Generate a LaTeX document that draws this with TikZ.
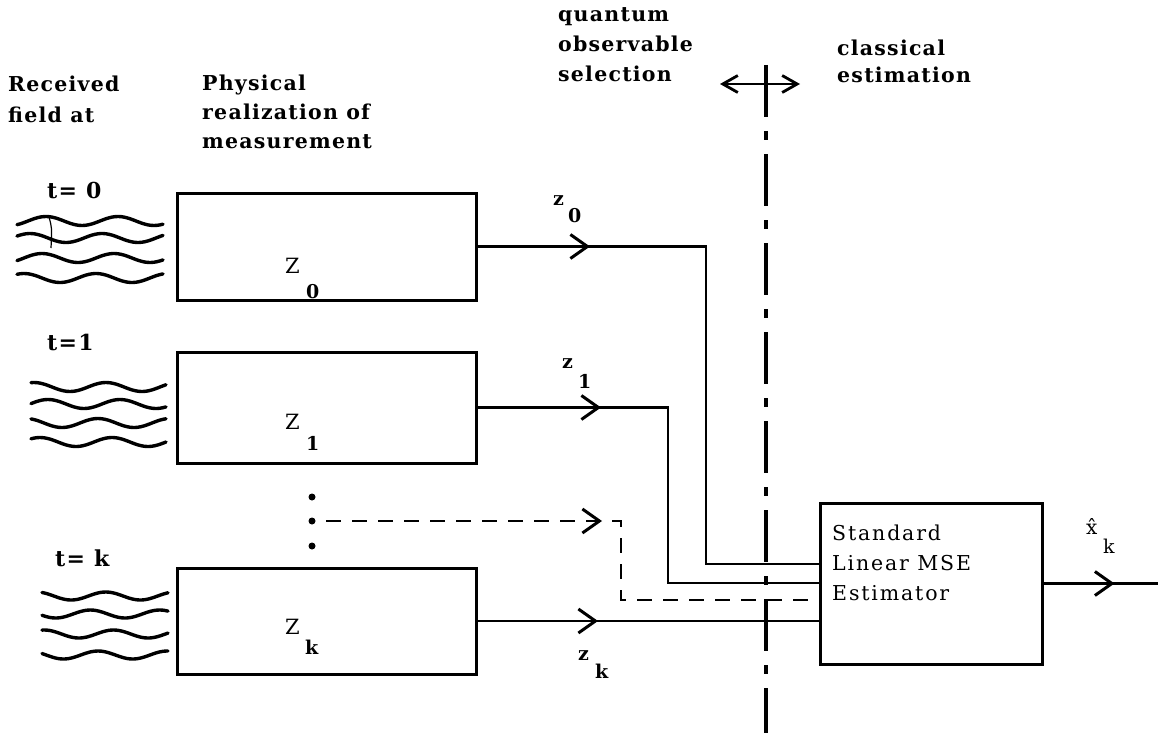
\documentclass[tikz,border=0pt]{standalone}
\usepackage{fontspec}
\setmainfont{DejaVu Serif}
\newfontfamily\hfont[LetterSpace=6]{DejaVu Serif}
\newfontfamily\efont[LetterSpace=9]{DejaVu Serif}
\usetikzlibrary{arrows.meta,decorations.markings}
\begin{document}
\begin{tikzpicture}[x=1pt,y=-1pt,
  hdr/.style={font=\hfont\bfseries\fontsize{20.5}{24}\selectfont, anchor=base west, inner sep=0pt},
  tl/.style={font=\hfont\bfseries\fontsize{22}{24}\selectfont, anchor=base west, inner sep=0pt},
  sym/.style={font=\fontsize{21}{24}\selectfont, anchor=base west, inner sep=0pt},
  symb/.style={font=\bfseries\fontsize{19}{24}\selectfont, anchor=base west, inner sep=0pt},
  est/.style={font=\efont\fontsize{20.5}{24}\selectfont, anchor=base west, inner sep=0pt},
  mbox/.style={draw, line width=3pt, minimum width=299pt, inner sep=0pt},
  conn/.style={line width=2.5pt},
  dconn/.style={line width=2.8pt, dash pattern=on 15pt off 11pt},
  divider/.style={line width=3.5pt, dash pattern=on 52pt off 14pt on 9pt off 14pt},
  wave/.style={line width=3.4pt, line cap=round},
  chev/.tip={Straight Barb[length=17pt,width=24pt,line width=3pt]},
  midarr/.style={postaction={decorate}, decoration={markings, mark=at position #1 with {\arrow{chev}}}},
  dotn/.style={circle, fill, inner sep=0pt, minimum size=7pt}
]
\useasboundingbox (0,0) rectangle (1169,733);
\fill[white] (0,0) rectangle (1169,733);

% header texts
\node[hdr] (h1a) at (8,92) {Received};
\node[hdr] (h1b) at (8,122) {field at};
\node[hdr] (h2a) at (202,91) {Physical};
\node[hdr] (h2b) at (202,120) {realization of};
\node[hdr] (h2c) at (202,148) {measurement};
\node[hdr] (h3a) at (558,22) {quantum};
\node[hdr] (h3b) at (558,52) {observable};
\node[hdr] (h3c) at (558,82) {selection};
\node[hdr] (h4a) at (837,56) {classical};
\node[hdr] (h4b) at (837,83) {estimation};

% time labels
\node[tl] (t0) at (47,198) {t= 0};
\node[tl] (t1) at (47,350) {t=1};
\node[tl] (tk) at (55,566) {t= k};

% waves
\foreach \y/\p in {221/40, 238/120, 258/60, 278/150}{
  \draw[wave] plot[domain=17:163, samples=50, smooth] (\x, {\y + 4.5*sin(5*\x + \p)});
}
\draw[line width=1.2pt] (49,217) .. controls (52,228) .. (51,248);
\foreach \y/\p in {387/100, 404/30, 423/140, 442/70}{
  \draw[wave] plot[domain=31:166, samples=50, smooth] (\x, {\y + 4.5*sin(5*\x + \p)});
}
\foreach \y/\p in {596/80, 614/160, 634/40, 655/120}{
  \draw[wave] plot[domain=42:168, samples=50, smooth] (\x, {\y + 4*sin(5.2*\x + \p)});
}

% measurement boxes
\node[mbox, minimum height=107pt] (Z0) at (327,246.5) {};
\node[mbox, minimum height=111pt] (Z1) at (327,407.5) {};
\node[mbox, minimum height=106pt] (Zk) at (327,621) {};
\node[sym] (Z0a) at (285,273) {Z};
\node[symb] (Z0b) at (306,298) {0};
\node[sym] (Z1a) at (285,429) {Z};
\node[symb] (Z1b) at (306,450) {1};
\node[sym] (Zka) at (285,634) {Z};
\node[symb] (Zkb) at (305,654) {k};

% vertical dots
\node[dotn] (d1) at (312,497) {};
\node[dotn] (d2) at (312,521) {};
\node[dotn] (d3) at (312,546) {};

% estimator
\node[draw, line width=3pt, minimum width=222pt, minimum height=161pt, inner sep=0pt] (est) at (931,583.5) {};
\node[est] (e1) at (832,540) {Standard};
\node[est] (e2) at (832,570) {Linear MSE};
\node[est] (e3) at (832,600) {Estimator};

% coordinates
\coordinate (t0v) at (706,400);
\coordinate (in0) at (820,564);
\coordinate (t1v) at (668,500);
\coordinate (in1) at (820,583);
\coordinate (ds) at (326,521);
\coordinate (tdv) at (621,560);
\coordinate (ind) at (820,600);
\coordinate (ink) at (820,621);
\coordinate (xout) at (1158,583.5);

% connectors
\draw[conn, midarr=112pt] (Z0.east) -| (t0v) |- (in0);
\draw[conn, midarr=123pt] (Z1.east) -| (t1v) |- (in1);
\draw[dconn, midarr=276pt] (ds) -| (tdv) |- (ind);
\draw[conn, midarr=120pt] (Zk.east) -- (ink);
\draw[conn, midarr=71pt] (est.east) -- (xout);

% signal labels
\node[symb] (z0a) at (553,205) {z};
\node[symb] (z0b) at (568,222) {0};
\node[symb] (z1a) at (562,368) {z};
\node[symb] (z1b) at (578,388) {1};
\node[symb] (zka) at (578,660) {z};
\node[symb] (zkb) at (595,678) {k};
\node[sym, font=\fontsize{20}{24}\selectfont] (xh) at (1086,534) {\^x};
\node[sym, font=\fontsize{19}{20}\selectfont] (xk) at (1103,553) {k};

% divider and double arrow
\coordinate (dvt) at (766,65);
\coordinate (dvb) at (766,733);
\draw[divider] (dvt) -- (dvb);
\coordinate (dal) at (720,84);
\coordinate (dar) at (800,84);
\draw[line width=2.8pt, {Straight Barb[length=15pt,width=17pt,line width=2.8pt]}-{Straight Barb[length=15pt,width=17pt,line width=2.8pt]}] (dal) -- (dar);
\end{tikzpicture}
\end{document}
